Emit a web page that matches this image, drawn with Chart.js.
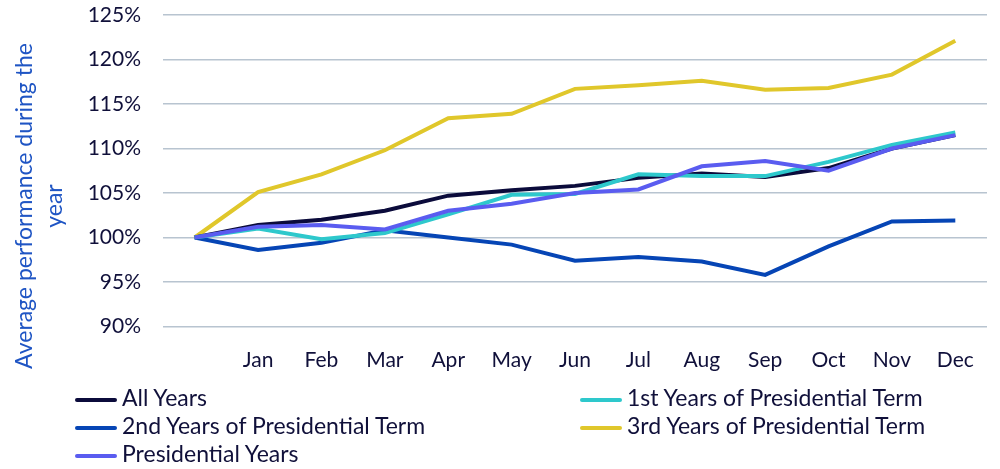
<!DOCTYPE html>
<html>
<head>
<meta charset="utf-8">
<script src="https://cdn.jsdelivr.net/npm/chart.js@4"></script>
<style>
  html, body { margin: 0; padding: 0; background: #fff; }
  #wrap { position: relative; width: 1000px; height: 469px; }
  #legend { position: absolute; left: 0; top: 383px; width: 1000px; font-family: Lato, sans-serif; font-size: 23px; color: #10103a; }
  .item { position: absolute; height: 28px; line-height: 28px; white-space: nowrap; }
  .item span.sw { display: inline-block; width: 42px; height: 4px; border-radius: 2px; vertical-align: middle; margin-right: 5px; }
  #ytitle { position: absolute; left: 38px; top: 206px; width: 400px; transform: translate(-50%, -50%) rotate(-90deg);
            text-align: center; font-family: Lato, sans-serif; font-size: 23px; line-height: 30px; color: #1f55c4; }
</style>
</head>
<body>
<div id="wrap">
  <canvas id="chart1" width="1000" height="469"></canvas>
  <div id="ytitle">Average performance during the<br>year</div>
  <div id="legend"></div>
</div>
<script>
const months = ['', 'Jan', 'Feb', 'Mar', 'Apr', 'May', 'Jun', 'Jul', 'Aug', 'Sep', 'Oct', 'Nov', 'Dec'];
const allYears   = [100, 101.4, 102.0, 103.0, 104.7, 105.3, 105.8, 106.7, 107.2, 106.8, 107.8, 110.0, 111.5];
const firstYears = [100, 101.0, 99.8, 100.5, 102.6, 104.8, 104.9, 107.1, 106.9, 106.9, 108.5, 110.4, 111.8];
const secondYears = [100, 98.6, 99.4, 100.8, 100.0, 99.2, 97.4, 97.8, 97.3, 95.8, 99.0, 101.8, 101.9];
const thirdYears = [100, 105.1, 107.1, 109.8, 113.4, 113.9, 116.7, 117.1, 117.6, 116.6, 116.8, 118.3, 122.1];
const presYears  = [100, 101.2, 101.4, 100.9, 103.0, 103.8, 105.0, 105.4, 108.0, 108.6, 107.5, 110.0, 111.5];
const yTicks = [90, 95, 100, 105, 110, 115, 120, 125];

const series = [
  { label: 'All Years', data: allYears, color: '#0b0b3b' },
  { label: '1st Years of Presidential Term', data: firstYears, color: '#2ec8cc' },
  { label: '2nd Years of Presidential Term', data: secondYears, color: '#0645b5' },
  { label: '3rd Years of Presidential Term', data: thirdYears, color: '#e0c72b' },
  { label: 'Presidential Years', data: presYears, color: '#5a5cf0' }
];

// ordem de desenho: o último fica por cima
const drawOrder = [2, 3, 0, 1, 4];

const chartEl = document.getElementById('chart1');
new Chart(chartEl, {
  type: 'line',
  data: {
    labels: months,
    datasets: series.map((s, i) => ({
      label: s.label,
      data: s.data,
      borderColor: s.color,
      backgroundColor: s.color,
      borderWidth: 4,
      pointRadius: 0,
      tension: 0,
      order: 5 - drawOrder.indexOf(i)
    }))
  },
  options: {
    responsive: false,
    animation: false,
    layout: { padding: { top: 15, right: 13, left: 0, bottom: 0 } },
    plugins: { legend: { display: false }, tooltip: { enabled: false } },
    scales: {
      x: {
        offset: true,
        grid: { display: false, drawTicks: false },
        border: { display: false },
        ticks: { color: '#10103a', font: { family: 'Lato', size: 21 }, padding: 21, maxRotation: 0 },
        afterFit: (scale) => { scale.height = 142.5; }
      },
      y: {
        min: 90, max: 125,
        afterBuildTicks: (scale) => { scale.ticks = yTicks.map(v => ({ value: v })); },
        grid: { color: '#b8c4d0', lineWidth: 1.5, drawTicks: false },
        border: { display: false },
        ticks: { color: '#10103a', font: { family: 'Lato', size: 21 }, padding: 22, callback: v => v + '%' },
        afterFit: (scale) => {
          scale.width = 163;
          scale.paddingTop = 0;
          scale.paddingBottom = 0;
        }
      }
    }
  }
});

// legenda em duas colunas
const legendEl = document.getElementById('legend');
const cols = [75, 580];
series.forEach((s, i) => {
  const it = document.createElement('div');
  it.className = 'item';
  it.style.left = cols[i % 2] + 'px';
  it.style.top = (Math.floor(i / 2) * 28) + 'px';
  it.innerHTML = '<span class="sw" style="background:' + s.color + '"></span>' + s.label;
  legendEl.appendChild(it);
});
</script>
</body>
</html>
